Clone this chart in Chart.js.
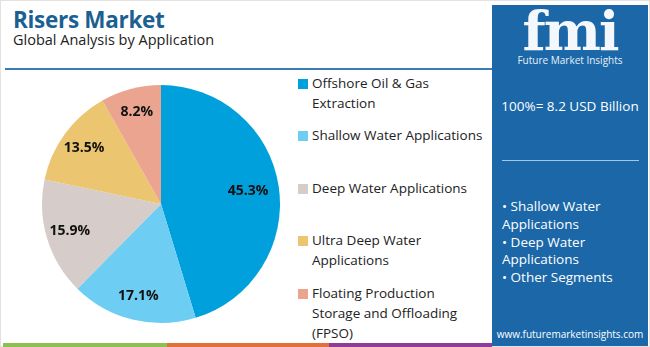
<!DOCTYPE html>
<html>
<head>
<meta charset="utf-8">
<script src="https://cdn.jsdelivr.net/npm/chart.js@4"></script>
<style>
  body { margin: 0; width: 650px; height: 347px; overflow: hidden; background: #fff; font-family: "Open Sans", sans-serif; }
  #page { position: relative; width: 648px; height: 345px; border: 1px solid #e2e2e2; }
  #title { position: absolute; left: 12px; top: 3px; font-size: 22.5px; font-weight: 700; color: #1b5f93; letter-spacing: -0.3px; }
  #subtitle { position: absolute; left: 12px; top: 29px; font-size: 14.5px; color: #222; }
  #rule { position: absolute; left: 4px; top: 67px; width: 488px; height: 2px; background: #3b7cb6; }
  #chartBox { position: absolute; left: 40px; top: 83px; width: 240px; height: 240px; }
  #legend { position: absolute; left: 297px; top: 72px; width: 195px; font-size: 13.5px; color: #222; line-height: 20px; }
  .item { position: absolute; left: 0; padding-left: 14px; }
  .sw { position: absolute; left: 0; top: 6px; width: 10px; height: 10px; }
  #panel { position: absolute; left: 491px; top: 4px; width: 156px; height: 341px; background: #1b67a8; color: #fff; }
  #logo { position: absolute; left: 0; width: 156px; top: -6px; text-align: center; font-family: "DejaVu Serif", serif; font-weight: 700; font-size: 54px; letter-spacing: -2px; color: #f4f8fc; }
  #logoSub { position: absolute; left: 0; width: 156px; top: 48px; text-align: center; font-size: 10px; color: #e8f1f9; }
  #total { position: absolute; left: 0; width: 156px; top: 92px; text-align: center; font-size: 13.5px; }
  #pline { position: absolute; left: 10px; top: 155px; width: 137px; height: 1px; background: #9cc9ec; }
  #segs { position: absolute; left: 10px; top: 193px; font-size: 13.5px; line-height: 17.8px; }
  #site { position: absolute; left: 0; width: 156px; top: 322px; text-align: center; font-size: 10px; }
  .stripe { position: absolute; top: 342px; height: 4px; }
</style>
</head>
<body>
<div id="page">
  <div id="title">Risers Market</div>
  <div id="subtitle">Global Analysis by Application</div>
  <div id="rule"></div>
  <div id="chartBox"><canvas id="pie"></canvas></div>
  <div id="legend"></div>
  <div id="panel">
    <div id="logo">fmi</div>
    <div id="logoSub">Future Market Insights</div>
    <div id="total">100%= 8.2 USD Billion</div>
    <div id="pline"></div>
    <div id="segs">• Shallow Water<br>Applications<br>• Deep Water<br>Applications<br>• Other Segments</div>
    <div id="site">www.futuremarketinsights.com</div>
  </div>
  <div class="stripe" style="left:2px;width:164px;background:#8cc152"></div>
  <div class="stripe" style="left:166px;width:162px;background:#e2703a"></div>
  <div class="stripe" style="left:328px;width:163px;background:#8e3b9a"></div>
</div>
<script>
// Data
const categories = [
  "Offshore Oil & Gas Extraction",
  "Shallow Water Applications",
  "Deep Water Applications",
  "Ultra Deep Water Applications",
  "Floating Production Storage and Offloading (FPSO)"
];
const legendLines = [
  ["Offshore Oil & Gas", "Extraction"],
  ["Shallow Water Applications"],
  ["Deep Water Applications"],
  ["Ultra Deep Water", "Applications"],
  ["Floating Production", "Storage and Offloading", "(FPSO)"]
];
const shares = [45.3, 17.1, 15.9, 13.5, 8.2];
const colors = ['#00a0dc', '#6dcdf3', '#d6ccc9', '#ebc56f', '#eba48f'];

// legend, built by hand so the text can wrap like the original
const legendTops = [0, 52, 105, 157, 210];
const legend = document.getElementById('legend');
categories.forEach(function (c, i) {
  const d = document.createElement('div');
  d.className = 'item';
  d.style.top = legendTops[i] + 'px';
  d.innerHTML = '<span class="sw" style="background:' + colors[i] + '"></span>' + legendLines[i].join('<br>');
  legend.appendChild(d);
});

// percent labels inside slices
const sliceLabels = {
  id: 'sliceLabels',
  afterDatasetsDraw(chart) {
    const ctx = chart.ctx;
    const meta = chart.getDatasetMeta(0);
    ctx.save();
    ctx.font = 'bold 14px "Open Sans", sans-serif';
    ctx.fillStyle = '#111';
    ctx.textAlign = 'center';
    ctx.textBaseline = 'middle';
    meta.data.forEach(function (arc, i) {
      const p = arc.getProps(['x', 'y', 'startAngle', 'endAngle', 'outerRadius']);
      const mid = (p.startAngle + p.endAngle) / 2;
      const r = p.outerRadius * (i === 0 ? 0.74 : 0.8);
      ctx.fillText(shares[i] + '%', p.x + Math.cos(mid) * r, p.y + Math.sin(mid) * r);
    });
    ctx.restore();
  }
};

new Chart(document.getElementById('pie'), {
  type: 'pie',
  data: {
    labels: categories,
    datasets: [{
      data: shares,
      backgroundColor: colors,
      borderWidth: 0
    }]
  },
  options: {
    responsive: true,
    maintainAspectRatio: false,
    animation: false,
    layout: { padding: 1 },
    plugins: {
      legend: { display: false },
      tooltip: { enabled: false }
    }
  },
  plugins: [sliceLabels]
});
</script>
</body>
</html>
